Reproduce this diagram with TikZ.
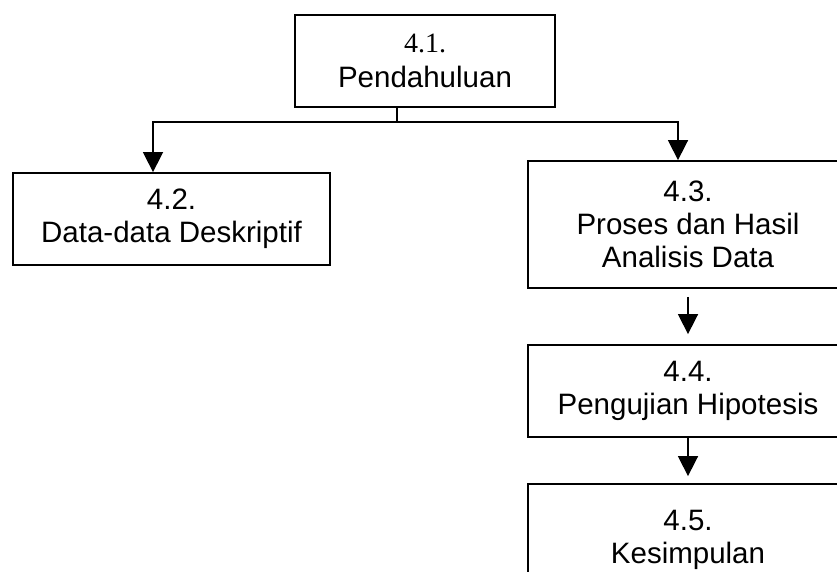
\documentclass[tikz,border=0pt]{standalone}
\usepackage{fontspec}
\setmainfont{Liberation Sans}
\newfontfamily\numserif{Liberation Serif}
\usetikzlibrary{arrows.meta}

\tikzset{
  chapbox/.style={draw=black, line width=1.8pt, inner sep=0pt, align=center,
    font=\fontsize{29.5}{33}\selectfont},
  link/.style={draw=black, line width=1.6pt},
  arr/.style={link, -{Triangle[width=20pt,length=20pt]}}
}

\begin{document}
\begin{tikzpicture}[x=1pt,y=-1pt]
  \useasboundingbox (0,0) rectangle (837,572);
  \clip (0,0) rectangle (837,572);

  % chapter sections
  \node[chapbox, minimum width=260pt, minimum height=92pt] (n41) at (425,61)
    {{\numserif\fontsize{28}{33}\selectfont 4.1.}\\[2pt]Pendahuluan};
  \node[chapbox, minimum width=317pt, minimum height=92pt] (n42) at (171.5,219)
    {4.2.\\Data-data Deskriptif};
  \node[chapbox, minimum width=320pt, minimum height=127pt] (n43) at (688,224.5)
    {4.3.\\Proses dan Hasil\\Analisis Data};
  \node[chapbox, minimum width=320pt, minimum height=92pt] (n44) at (688,391)
    {4.4.\\Pengujian Hipotesis};
  \node[chapbox, minimum width=320pt, minimum height=112pt] (n45) at (688,540)
    {4.5.\\Kesimpulan};

  % branching from the introduction
  \coordinate (j) at (397,122);
  \coordinate (jl) at (153,122);
  \coordinate (jr) at (678,122);
  \coordinate (col) at (688,0);

  \draw[link] (n41.south -| j) -- (j);
  \draw[arr] (j) -- (jl) -- (jl |- n42.north);
  \draw[arr] (j) -- (jr) -- (jr |- n43.north);

  % sequential chain on the right
  \draw[arr, shorten <=8pt, shorten >=10pt] (n43.south -| col) -- (n44.north -| col);
  \draw[arr, shorten >=7pt] (n44.south -| col) -- (n45.north -| col);
\end{tikzpicture}
\end{document}
